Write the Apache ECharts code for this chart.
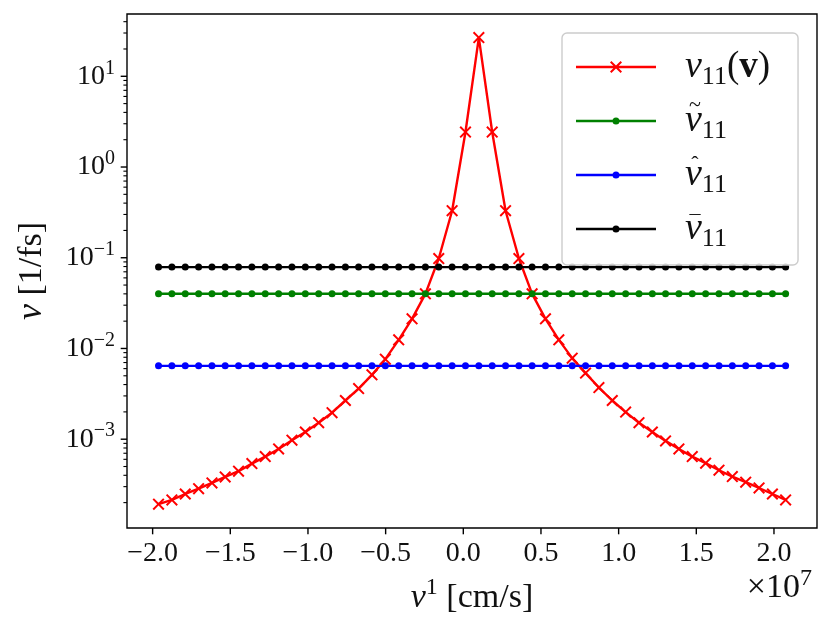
<!DOCTYPE html>
<html>
<head>
<meta charset="utf-8">
<script src="https://cdn.jsdelivr.net/npm/echarts@6.0.0/dist/echarts.min.js"></script>
<style>
  html, body { margin: 0; padding: 0; background: #fff; }
  #chart { width: 831px; height: 630px; }
</style>
</head>
<body>
<div id="chart"></div>
<script>
// velocity grid v^1 [cm/s]
var velocity = [
  -1.962e7, -1.876e7, -1.790e7, -1.704e7, -1.618e7, -1.533e7, -1.447e7, -1.361e7,
  -1.275e7, -1.189e7, -1.103e7, -1.017e7, -0.931e7, -0.845e7, -0.759e7, -0.674e7,
  -0.588e7, -0.502e7, -0.416e7, -0.330e7, -0.244e7, -0.158e7, -0.072e7, 0.014e7,
  0.100e7, 0.186e7, 0.272e7, 0.358e7, 0.443e7, 0.529e7, 0.615e7, 0.701e7,
  0.787e7, 0.873e7, 0.959e7, 1.045e7, 1.131e7, 1.217e7, 1.302e7, 1.388e7,
  1.474e7, 1.560e7, 1.646e7, 1.732e7, 1.818e7, 1.904e7, 1.990e7, 2.075e7
];
// nu_11(v) [1/fs]
var nuV = [
  1.92e-4, 2.14e-4, 2.49e-4, 2.85e-4, 3.30e-4, 3.84e-4, 4.44e-4, 5.38e-4,
  6.43e-4, 7.81e-4, 9.75e-4, 1.20e-3, 1.52e-3, 1.96e-3, 2.67e-3, 3.61e-3,
  5.12e-3, 7.62e-3, 1.245e-2, 2.12e-2, 4.0e-2, 9.8e-2, 0.33, 2.43,
  26.7, 2.43, 0.33, 0.098, 0.040, 2.12e-2, 1.245e-2, 7.82e-3,
  5.35e-3, 3.71e-3, 2.67e-3, 1.99e-3, 1.52e-3, 1.20e-3, 9.58e-4, 7.81e-4,
  6.43e-4, 5.44e-4, 4.55e-4, 3.87e-4, 3.36e-4, 2.90e-4, 2.49e-4, 2.14e-4
];
// averaged rates (constant over v)
var nuTilde = 0.0401;
var nuHat = 0.00643;
var nuBar = 0.0789;

var xTicks = [-2e7, -1.5e7, -1e7, -0.5e7, 0, 0.5e7, 1e7, 1.5e7, 2e7];
var yTicks = [1e-3, 1e-2, 1e-1, 1, 10];
var yMinorTicks = [
  2e-4, 3e-4, 4e-4, 5e-4, 6e-4, 7e-4, 8e-4, 9e-4,
  2e-3, 3e-3, 4e-3, 5e-3, 6e-3, 7e-3, 8e-3, 9e-3,
  2e-2, 3e-2, 4e-2, 5e-2, 6e-2, 7e-2, 8e-2, 9e-2,
  0.2, 0.3, 0.4, 0.5, 0.6, 0.7, 0.8, 0.9,
  2, 3, 4, 5, 6, 7, 8, 9,
  20, 30, 40
];

var xMin = -2.165e7, xMax = 2.277e7;
var yMin = 1.05e-4, yMax = 48.6;

var FONT = 'Liberation Serif';
var TXT = '#111';

var crossSymbol = 'path://M0,1.4 L1.4,0 L6,4.6 L10.6,0 L12,1.4 L7.4,6 L12,10.6 L10.6,12 L6,7.4 L1.4,12 L0,10.6 L4.6,6 Z';
var crossIcon = 'path://M0,4.8 L80,4.8 L80,7.2 L0,7.2 Z M34,1.4 L35.4,0 L40,4.6 L44.6,0 L46,1.4 L41.4,6 L46,10.6 L44.6,12 L40,7.4 L35.4,12 L34,10.6 L38.6,6 Z';
var dotIcon = 'path://M0,2.3 L80,2.3 L80,4.7 L0,4.7 Z M36.5,3.5 A3.5,3.5 0 1 1 43.5,3.5 A3.5,3.5 0 1 1 36.5,3.5 Z';

var legendLabels = {
  'nu': '{i|ν}{s|11}{n|(}{b|v}{n|)}',
  'tilde': '{i|ν}{s|11}',
  'hat': '{i|ν}{s|11}',
  'bar': '{i|ν}{s|11}'
};

// legend box geometry (also used to put the accents over the ν glyphs)
var LEG_LEFT = 562, LEG_TOP = 33, LEG_PAD = [11, 28, 13, 14];
var ROW_H = 44, ROW_GAP = 8, ROW_STEP = 54;

function flat(name, value, color) {
  return {
    name: name,
    type: 'line',
    data: velocity.map(function (v) { return [v, value]; }),
    symbol: 'circle',
    symbolSize: 7,
    lineStyle: { color: color, width: 2.4 },
    itemStyle: { color: color, borderWidth: 0 },
    emphasis: { disabled: true },
    animation: false
  };
}

// tick marks drawn through the axes' own scales
function ticks(values, dir, len, width) {
  return {
    type: 'custom',
    silent: true,
    clip: false,
    animation: false,
    data: values.map(function (v) { return dir === 'x' ? [v, yMin] : [xMin, v]; }),
    renderItem: function (params, api) {
      var p = api.coord([api.value(0), api.value(1)]);
      var shape = dir === 'x'
        ? { x1: p[0], y1: p[1], x2: p[0], y2: p[1] + len }
        : { x1: p[0] - len, y1: p[1], x2: p[0], y2: p[1] };
      return { type: 'line', shape: shape, style: { stroke: '#000', lineWidth: width } };
    }
  };
}

// accent marks above ν in legend rows 2..4
function accent(row, glyph, dy) {
  var cy = LEG_TOP + LEG_PAD[0] + ROW_H / 2 + row * ROW_STEP;
  return {
    type: 'text', silent: true, z: 100,
    x: 695, y: cy + dy,
    style: {
      text: glyph, fill: TXT, align: 'center', verticalAlign: 'middle',
      font: '22px "Liberation Serif"'
    }
  };
}

var chart = echarts.init(document.getElementById('chart'));

var option = {
  backgroundColor: '#fff',
  animation: false,
  grid: {
    left: 127, right: 14, top: 14, bottom: 102,
    outerBoundsMode: 'none',
    containLabel: false,
    show: true, borderColor: '#000', borderWidth: 1.4, backgroundColor: '#fff'
  },
  xAxis: {
    type: 'value',
    min: xMin, max: xMax,
    splitNumber: 9,
    axisLine: { show: false },
    axisTick: { show: false },
    splitLine: { show: false },
    axisLabel: {
      margin: 12,
      fontFamily: FONT, fontSize: 28, color: TXT,
      formatter: function (v) {
        var k = v / 0.5e7;
        if (Math.abs(k - Math.round(k)) > 1e-6) return '';
        var s = (Math.abs(v) / 1e7).toFixed(1);
        return (v < -1 ? '−' : '') + s;
      }
    },
    name: '{i|v}{e|1}{n| [cm/s]}',
    nameLocation: 'middle',
    nameGap: 50,
    nameTextStyle: {
      fontFamily: FONT, fontSize: 34, color: TXT,
      rich: {
        i: { fontFamily: FONT, fontSize: 34, fontStyle: 'italic', lineHeight: 40 },
        e: { fontFamily: FONT, fontSize: 24, lineHeight: 20, padding: [0, 0, 20, 0] },
        n: { fontFamily: FONT, fontSize: 34, lineHeight: 40 }
      }
    }
  },
  yAxis: {
    type: 'log',
    logBase: 10,
    min: yMin, max: yMax,
    axisLine: { show: false },
    axisTick: { show: false },
    splitLine: { show: false },
    axisLabel: {
      margin: 12,
      fontFamily: FONT, fontSize: 28, color: TXT,
      formatter: function (v) {
        var lg = Math.log10(v);
        var e = Math.round(lg);
        if (Math.abs(lg - e) > 1e-6) return '';
        return '{b|10}{e|' + (e < 0 ? '−' + (-e) : e) + '}';
      },
      rich: {
        b: { fontFamily: FONT, fontSize: 28, color: TXT, lineHeight: 32 },
        e: { fontFamily: FONT, fontSize: 20, color: TXT, lineHeight: 16, padding: [0, 0, 16, 0] }
      }
    },
    name: '{i|ν}{n| [1/fs]}',
    nameLocation: 'middle',
    nameGap: 75,
    nameTextStyle: {
      fontFamily: FONT, fontSize: 34, color: TXT,
      rich: {
        i: { fontFamily: FONT, fontSize: 36, fontStyle: 'italic', lineHeight: 40 },
        n: { fontFamily: FONT, fontSize: 34, lineHeight: 40 }
      }
    }
  },
  legend: {
    data: [
      { name: 'nu', icon: crossIcon },
      { name: 'tilde', icon: dotIcon },
      { name: 'hat', icon: dotIcon },
      { name: 'bar', icon: dotIcon }
    ],
    orient: 'vertical',
    left: LEG_LEFT, top: LEG_TOP,
    itemWidth: 80, itemHeight: 12, itemGap: ROW_GAP,
    padding: LEG_PAD,
    backgroundColor: 'rgba(255,255,255,0.8)',
    borderColor: '#cccccc', borderWidth: 1.4, borderRadius: 5,
    selectedMode: false,
    itemStyle: { borderWidth: 0 },
    formatter: function (name) { return legendLabels[name]; },
    textStyle: {
      color: TXT, fontFamily: FONT, fontSize: 37,
      padding: [0, 0, 0, 24],
      rich: {
        i: { fontFamily: FONT, fontSize: 38, fontStyle: 'italic', lineHeight: ROW_H },
        s: { fontFamily: FONT, fontSize: 26, lineHeight: 24, padding: [20, 0, 0, 0] },
        n: { fontFamily: FONT, fontSize: 37, lineHeight: ROW_H },
        b: { fontFamily: FONT, fontSize: 37, fontWeight: 'bold', lineHeight: ROW_H }
      }
    }
  },
  graphic: [
    {
      type: 'text',
      x: 812, y: 588,
      silent: true,
      style: {
        text: '{n|×10}{e|7}',
        align: 'right', verticalAlign: 'middle',
        fill: TXT,
        rich: {
          n: { fontFamily: FONT, fontSize: 34, lineHeight: 38, fill: TXT },
          e: { fontFamily: FONT, fontSize: 24, lineHeight: 20, padding: [0, 0, 18, 0], fill: TXT }
        }
      }
    },
    accent(1, '~', -15),
    accent(2, 'ˆ', -9),
    accent(3, '¯', -4)
  ],
  series: [
    {
      name: 'nu',
      type: 'line',
      data: velocity.map(function (v, i) { return [v, nuV[i]]; }),
      symbol: crossSymbol,
      symbolSize: 12,
      lineStyle: { color: '#ff0000', width: 2.4 },
      itemStyle: { color: '#ff0000', borderWidth: 0 },
      emphasis: { disabled: true },
      animation: false
    },
    flat('tilde', nuTilde, '#008000'),
    flat('hat', nuHat, '#0000ff'),
    flat('bar', nuBar, '#000000'),
    ticks(xTicks, 'x', 6.3, 1.4),
    ticks(yTicks, 'y', 6.3, 1.4),
    ticks(yMinorTicks, 'y', 3.6, 1.1)
  ]
};

chart.setOption(option);
</script>
</body>
</html>
